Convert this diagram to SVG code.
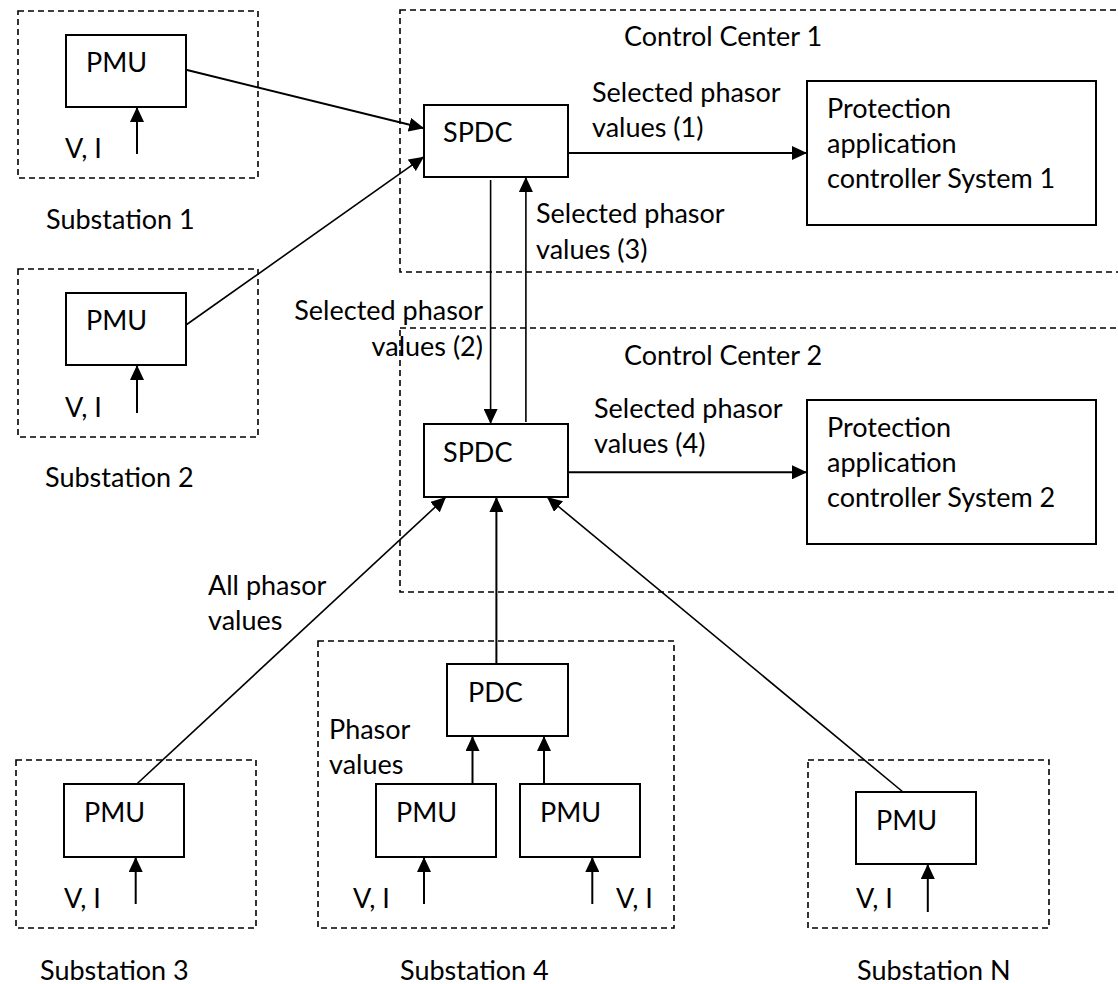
<svg xmlns="http://www.w3.org/2000/svg" width="1118" height="984" viewBox="0 0 1118 984">
<style>
.dash{fill:none;stroke:#000;stroke-width:1.6;stroke-dasharray:6,4}
.box{fill:#fff;stroke:#000;stroke-width:2}
.t{font-family:Lato,"Liberation Sans",sans-serif;font-size:27px;fill:#000}
.c{fill:none;stroke:#000;stroke-width:1.6}
.ct{fill:none;stroke:#000;stroke-width:2}
</style>
<defs>
<marker id="ah" markerUnits="userSpaceOnUse" markerWidth="15" markerHeight="14" refX="15" refY="7" orient="auto">
<path d="M0,0 L15,7 L0,14 z" fill="#000"/>
</marker>
</defs>
<rect width="1118" height="984" fill="#fff"/>
<g id="sub1">
<rect class="dash" x="18" y="11" width="240" height="167"/>
<rect class="box" x="66" y="35" width="120" height="72"/>
<text class="t" x="86" y="72">PMU</text>
<text class="t" x="65" y="158">V, I</text>
<text class="t" x="46" y="229">Substation 1</text>
</g>
<g id="sub2">
<rect class="dash" x="18" y="269" width="240" height="168"/>
<rect class="box" x="66" y="293" width="120" height="72"/>
<text class="t" x="86" y="330">PMU</text>
<text class="t" x="65" y="417">V, I</text>
<text class="t" x="45" y="487">Substation 2</text>
</g>
<g id="cc1">
<rect class="dash" x="400" y="10" width="730" height="262"/>
<text class="t" x="624" y="46">Control Center 1</text>
</g>
<g id="spdc1">
<rect class="box" x="424" y="105" width="144" height="72"/>
<text class="t" x="443" y="142">SPDC</text>
</g>
<g id="prot1">
<rect class="box" x="807" y="81" width="289" height="144"/>
<text class="t" x="827" y="118">Protection</text>
<text class="t" x="827" y="153">application</text>
<text class="t" x="827" y="188">controller System 1</text>
</g>
<g id="cc2">
<rect class="dash" x="400" y="328" width="730" height="264"/>
<text class="t" x="624" y="365">Control Center 2</text>
</g>
<g id="spdc2">
<rect class="box" x="424" y="424" width="144" height="73"/>
<text class="t" x="443" y="462">SPDC</text>
</g>
<g id="prot2">
<rect class="box" x="807" y="400" width="289" height="144"/>
<text class="t" x="827" y="437">Protection</text>
<text class="t" x="827" y="472">application</text>
<text class="t" x="827" y="507">controller System 2</text>
</g>
<g id="sub3">
<rect class="dash" x="16" y="760" width="240" height="168"/>
<rect class="box" x="64" y="784" width="120" height="73"/>
<text class="t" x="84" y="822">PMU</text>
<text class="t" x="64" y="908">V, I</text>
<text class="t" x="40" y="980">Substation 3</text>
</g>
<g id="sub4">
<rect class="dash" x="318" y="641" width="356" height="287"/>
<text class="t" x="329" y="739">Phasor</text>
<text class="t" x="329" y="774">values</text>
<text class="t" x="353" y="908">V, I</text>
<text class="t" x="616" y="908">V, I</text>
<text class="t" x="400" y="980">Substation 4</text>
</g>
<g id="pdc">
<rect class="box" x="447" y="664" width="121" height="72"/>
<text class="t" x="468" y="702">PDC</text>
</g>
<g id="pmu4a">
<rect class="box" x="376" y="784" width="120" height="73"/>
<text class="t" x="396" y="822">PMU</text>
</g>
<g id="pmu4b">
<rect class="box" x="520" y="784" width="120" height="73"/>
<text class="t" x="540" y="822">PMU</text>
</g>
<g id="subN">
<rect class="dash" x="808" y="760" width="241" height="168"/>
<rect class="box" x="856" y="792" width="120" height="72"/>
<text class="t" x="876" y="830">PMU</text>
<text class="t" x="856" y="908">V, I</text>
<text class="t" x="857" y="980">Substation N</text>
</g>
<g id="labels">
<text class="t" x="592" y="102">Selected phasor</text>
<text class="t" x="592" y="137">values (1)</text>
<text class="t" x="536" y="223">Selected phasor</text>
<text class="t" x="536" y="259">values (3)</text>
<text class="t" x="483" y="320" text-anchor="end">Selected phasor</text>
<text class="t" x="483" y="356" text-anchor="end">values (2)</text>
<text class="t" x="594" y="418">Selected phasor</text>
<text class="t" x="594" y="453">values (4)</text>
<text class="t" x="208" y="595">All phasor</text>
<text class="t" x="208" y="630">values</text>
</g>
<g id="connectors">
<path class="ct" d="M186,69.7 L424,128.3" marker-end="url(#ah)"/>
<path class="c" d="M186,325 L424,156.7" marker-end="url(#ah)"/>
<path class="ct" d="M568,153 L807,153" marker-end="url(#ah)"/>
<path class="c" d="M490.6,180 L490.6,424" marker-end="url(#ah)"/>
<path class="c" d="M525.9,422 L525.9,177" marker-end="url(#ah)"/>
<path class="ct" d="M568,472.3 L807,472.3" marker-end="url(#ah)"/>
<path class="c" d="M136.8,784 L446,497" marker-end="url(#ah)"/>
<path class="ct" d="M496.4,664 L496.4,497" marker-end="url(#ah)"/>
<path class="c" d="M903,792 L547,497" marker-end="url(#ah)"/>
<path class="ct" d="M472.5,784 L472.5,736" marker-end="url(#ah)"/>
<path class="ct" d="M544,784 L544,736" marker-end="url(#ah)"/>
<path class="ct" d="M137,154 L137,107" marker-end="url(#ah)"/>
<path class="ct" d="M137,413 L137,365" marker-end="url(#ah)"/>
<path class="ct" d="M135.7,904 L135.7,857" marker-end="url(#ah)"/>
<path class="ct" d="M424,904 L424,857" marker-end="url(#ah)"/>
<path class="ct" d="M592.3,904 L592.3,857" marker-end="url(#ah)"/>
<path class="ct" d="M927.8,912 L927.8,864" marker-end="url(#ah)"/>
</g>
</svg>
